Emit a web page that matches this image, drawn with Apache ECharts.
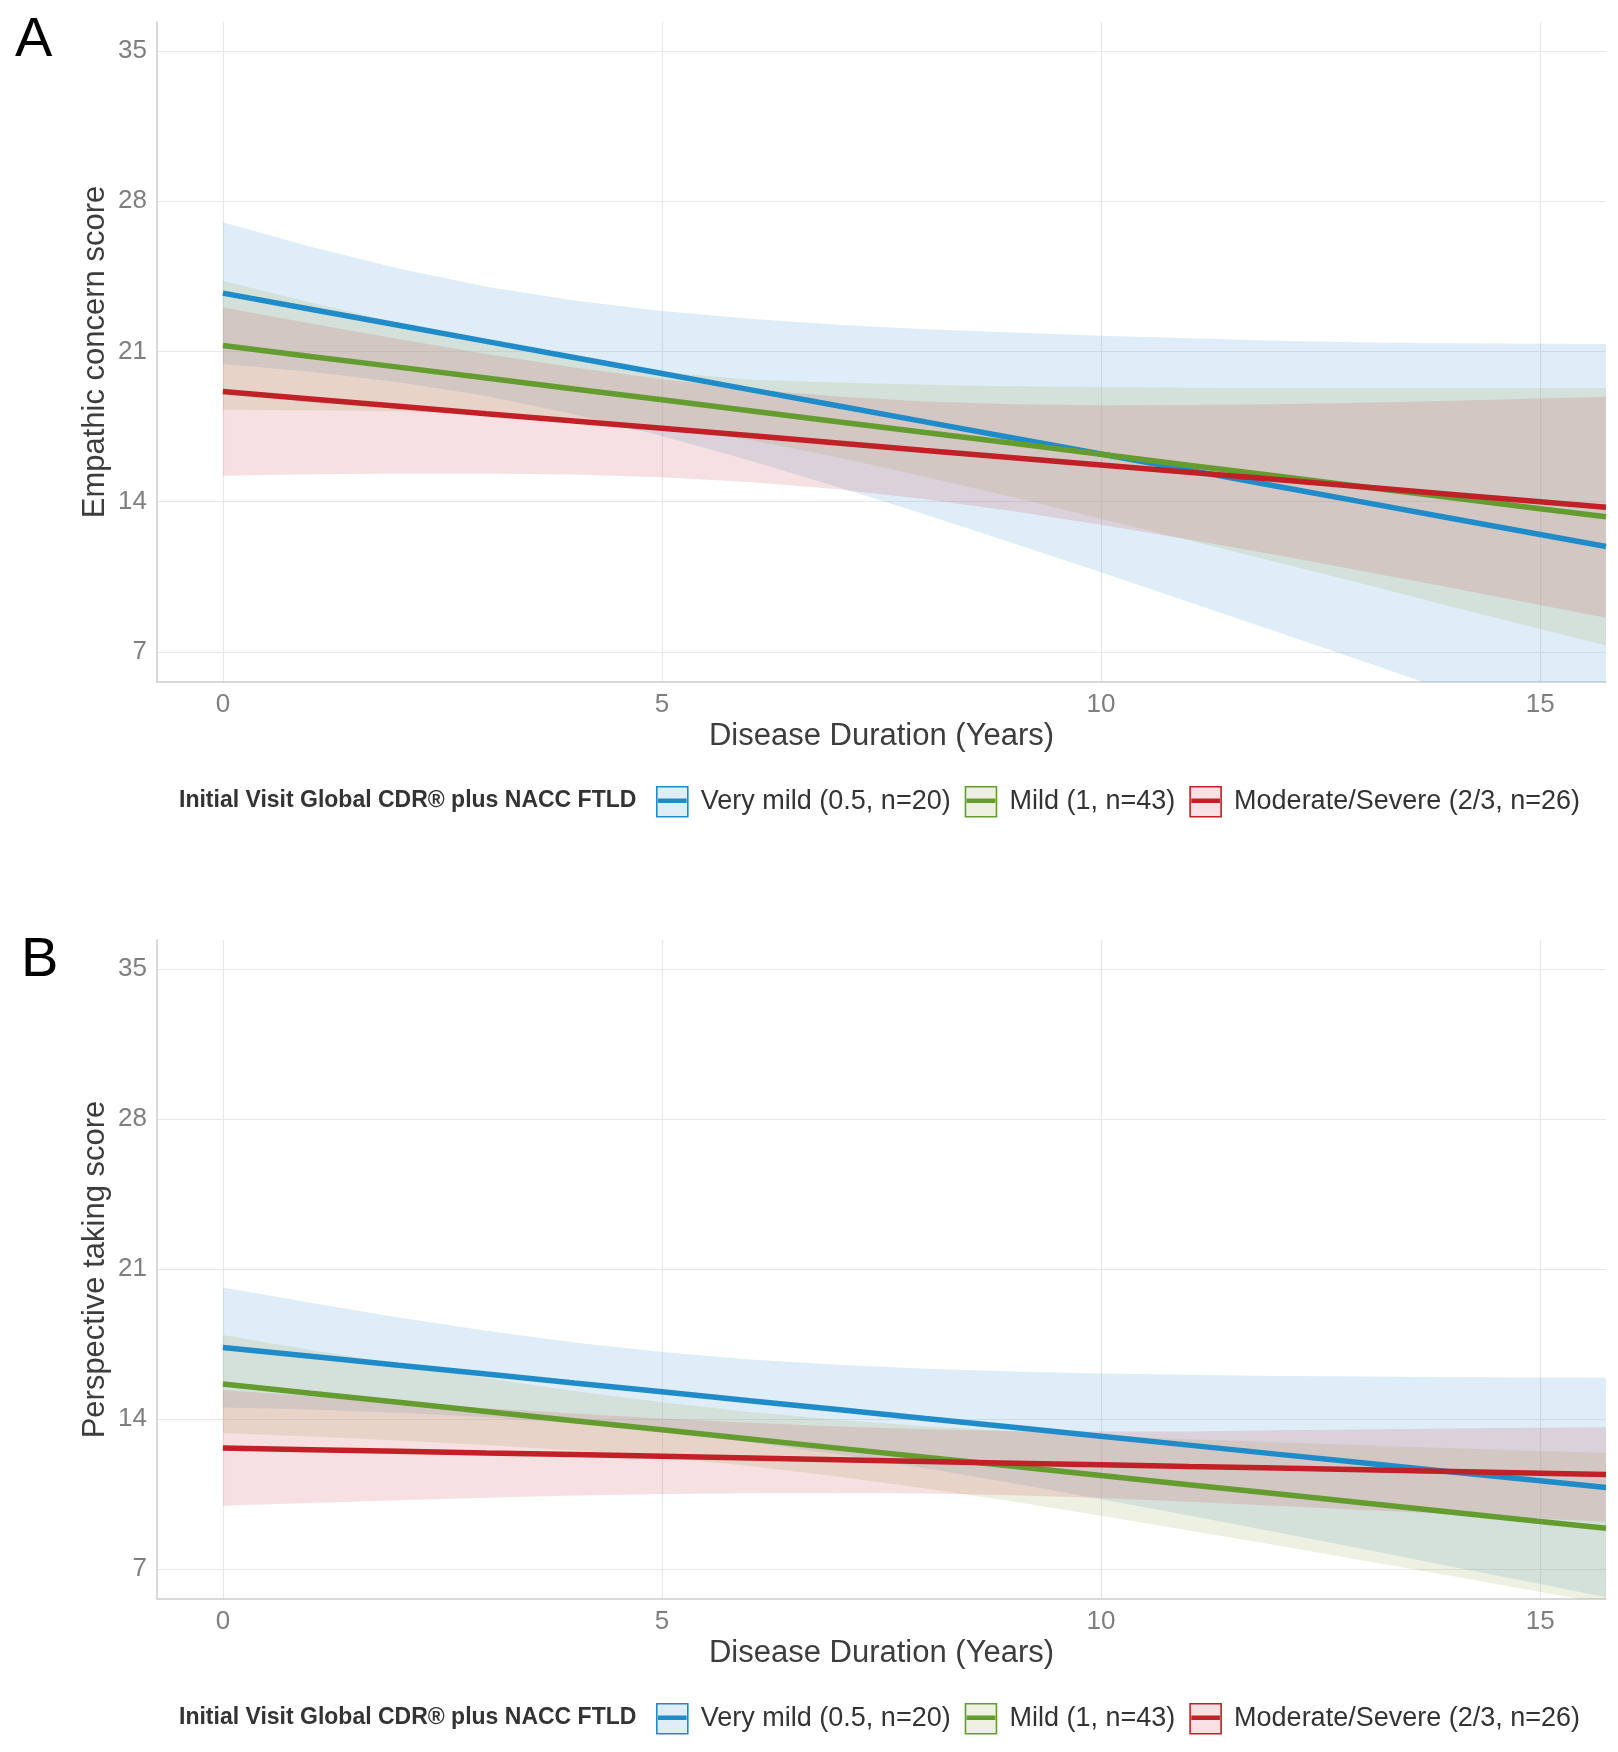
<!DOCTYPE html>
<html>
<head>
<meta charset="utf-8">
<title>Empathy scores by disease duration</title>
<script src="https://cdn.jsdelivr.net/npm/echarts@6/dist/echarts.min.js"></script>
<style>
  html, body { margin: 0; padding: 0; background: #fff; }
  #chart { width: 1618px; height: 1752px; }
</style>
</head>
<body>
<div id="chart"></div>
<script>
const years = [0, 1, 2, 3, 4, 5, 6, 7, 8, 9, 10, 11, 12, 13, 14, 15, 15.75];
const groupNames = ['Very mild (0.5, n=20)', 'Mild (1, n=43)', 'Moderate/Severe (2/3, n=26)'];
const xTicks = [0, 5, 10, 15];
const yTicks = [7, 14, 21, 28, 35];

// panel A: empathic concern (fit, lower and upper band)
const ecFitVeryMild = [23.72, 22.97, 22.22, 21.47, 20.72, 19.97, 19.22, 18.47, 17.72, 16.97, 16.22, 15.47, 14.72, 13.97, 13.22, 12.47, 11.91];
const ecLowVeryMild = [20.42, 20.06, 19.57, 18.92, 18.07, 17.06, 15.92, 14.69, 13.40, 12.06, 10.71, 9.33, 7.94, 6.54, 5.13, 3.71, 2.65];
const ecHighVeryMild = [27.02, 25.88, 24.87, 24.02, 23.37, 22.88, 22.52, 22.25, 22.04, 21.88, 21.73, 21.61, 21.50, 21.42, 21.38, 21.36, 21.35];
const ecFitMild = [21.28, 20.77, 20.27, 19.76, 19.25, 18.75, 18.24, 17.73, 17.22, 16.72, 16.21, 15.70, 15.20, 14.69, 14.18, 13.67, 13.30];
const ecLowMild = [18.28, 18.26, 18.21, 18.10, 17.89, 17.51, 16.88, 16.07, 15.16, 14.21, 13.21, 12.20, 11.18, 10.15, 9.11, 8.07, 7.30];
const ecHighMild = [24.28, 23.28, 22.33, 21.42, 20.61, 20.05, 19.68, 19.55, 19.45, 19.38, 19.34, 19.31, 19.30, 19.29, 19.29, 19.29, 19.30];
const ecFitModSev = [19.13, 18.79, 18.45, 18.10, 17.76, 17.42, 17.08, 16.74, 16.39, 16.05, 15.71, 15.37, 15.03, 14.68, 14.34, 14.00, 13.74];
const ecLowModSev = [15.21, 15.28, 15.32, 15.32, 15.27, 15.14, 14.92, 14.58, 14.11, 13.56, 12.93, 12.24, 11.52, 10.75, 9.98, 9.19, 8.59];
const ecHighModSev = [23.05, 22.30, 21.58, 20.88, 20.25, 19.70, 19.24, 18.90, 18.67, 18.54, 18.49, 18.50, 18.54, 18.61, 18.70, 18.81, 18.89];

// panel B: perspective taking
const ptFitVeryMild = [17.34, 16.93, 16.51, 16.10, 15.68, 15.27, 14.85, 14.44, 14.02, 13.61, 13.19, 12.78, 12.36, 11.95, 11.53, 11.12, 10.80];
const ptLowVeryMild = [14.54, 14.44, 14.29, 14.08, 13.79, 13.41, 12.92, 12.35, 11.70, 11.00, 10.26, 9.50, 8.71, 7.92, 7.11, 6.30, 5.68];
const ptHighVeryMild = [20.14, 19.42, 18.73, 18.12, 17.57, 17.13, 16.78, 16.53, 16.34, 16.22, 16.12, 16.06, 16.01, 15.98, 15.95, 15.94, 15.92];
const ptFitMild = [15.63, 15.20, 14.78, 14.35, 13.92, 13.50, 13.07, 12.64, 12.21, 11.79, 11.36, 10.93, 10.51, 10.08, 9.65, 9.22, 8.90];
const ptLowMild = [13.34, 13.18, 13.00, 12.79, 12.53, 12.22, 11.81, 11.32, 10.76, 10.15, 9.49, 8.80, 8.11, 7.39, 6.67, 5.93, 5.38];
const ptHighMild = [17.92, 17.22, 16.56, 15.91, 15.31, 14.78, 14.33, 13.96, 13.66, 13.43, 13.23, 13.06, 12.91, 12.77, 12.63, 12.51, 12.42];
const ptFitModSev = [12.65, 12.57, 12.49, 12.41, 12.34, 12.26, 12.18, 12.10, 12.02, 11.94, 11.86, 11.78, 11.71, 11.63, 11.55, 11.47, 11.41];
const ptLowModSev = [9.95, 10.08, 10.21, 10.32, 10.43, 10.50, 10.54, 10.55, 10.52, 10.44, 10.31, 10.14, 9.95, 9.75, 9.55, 9.35, 9.21];
const ptHighModSev = [15.35, 15.06, 14.77, 14.50, 14.25, 14.02, 13.82, 13.65, 13.52, 13.44, 13.41, 13.42, 13.47, 13.51, 13.55, 13.59, 13.61];

const lineColors = ['#1f8bc9', '#649c30', '#c02026'];
const bandColors = ['rgba(90,165,215,0.2)', 'rgba(170,182,105,0.2)', 'rgba(205,85,95,0.18)'];
const keyFills = ['#deedf7', '#eef0e1', '#f6e0e2'];
const font = 'Liberation Sans';

const panels = [
  { title: 'Empathic concern score', fit: [ecFitVeryMild, ecFitMild, ecFitModSev], low: [ecLowVeryMild, ecLowMild, ecLowModSev], high: [ecHighVeryMild, ecHighMild, ecHighModSev] },
  { title: 'Perspective taking score', fit: [ptFitVeryMild, ptFitMild, ptFitModSev], low: [ptLowVeryMild, ptLowMild, ptLowModSev], high: [ptHighVeryMild, ptHighMild, ptHighModSev] }
];

// confidence ribbon as one polygon between the lower and upper bounds
function bandSeries(pi, low, high, color) {
  return {
    type: 'custom', xAxisIndex: pi, yAxisIndex: pi, silent: true, clip: true,
    data: years.map((x, i) => [x, low[i], high[i]]),
    encode: { x: 0, y: [1, 2] },
    renderItem: (params, api) => {
      if (params.dataIndex !== 0) return null;
      const top = years.map((x, i) => api.coord([x, high[i]]));
      const bottom = years.map((x, i) => api.coord([x, low[i]])).reverse();
      return { type: 'polygon', shape: { points: top.concat(bottom) }, style: { fill: color } };
    }
  };
}

const series = [];
panels.forEach((p, pi) => {
  groupNames.forEach((name, g) => {
    series.push(bandSeries(pi, p.low[g], p.high[g], bandColors[g]));
    series.push({
      name, type: 'line', xAxisIndex: pi, yAxisIndex: pi,
      symbol: 'none', lineStyle: { color: lineColors[g], width: 5.5 },
      itemStyle: { color: lineColors[g] },
      data: years.map((x, i) => [x, p.fit[g][i]])
    });
  });
});

const grids = [
  { left: 157, top: 22, width: 1449, height: 660 },
  { left: 157, top: 940, width: 1449, height: 659 }
];
const legendTops = [786, 1703];

const chart = echarts.init(document.getElementById('chart'));
chart.setOption({
  animation: false,
  backgroundColor: '#fff',
  grid: grids,
  xAxis: panels.map((p, pi) => ({
    type: 'value', gridIndex: pi, min: -0.75, max: 15.75,
    name: 'Disease Duration (Years)', nameLocation: 'middle', nameGap: 39,
    nameTextStyle: { fontSize: 31, color: '#3d3d3d', fontFamily: font },
    axisLine: { show: true, onZero: false, lineStyle: { color: '#cccccc', width: 1.5 } },
    axisTick: { show: false, customValues: xTicks },
    axisLabel: { customValues: xTicks, fontSize: 26, color: '#7f7f7f', margin: 10, fontFamily: font },
    splitLine: { show: true, lineStyle: { color: '#e8e8e8', width: 1.2 } }
  })),
  yAxis: panels.map((p, pi) => ({
    type: 'value', gridIndex: pi, min: 5.6, max: 36.35,
    name: p.title, nameLocation: 'middle', nameGap: 46, nameMoveOverlap: false,
    nameTextStyle: { fontSize: 31, color: '#3d3d3d', fontFamily: font },
    axisLine: { show: true, onZero: false, lineStyle: { color: '#cccccc', width: 1.5 } },
    axisTick: { show: false, customValues: yTicks },
    axisLabel: { customValues: yTicks, fontSize: 26, color: '#7f7f7f', margin: 10, fontFamily: font, padding: [8, 0, 0, 0] },
    splitLine: { show: true, lineStyle: { color: '#e8e8e8', width: 1.2 } }
  })),
  legend: legendTops.map(top => ({
    left: 656, top, padding: 0, orient: 'horizontal', selectedMode: false,
    itemWidth: 31, itemHeight: 30, itemGap: 14,
    icon: 'path://M0,0H31V30H0Z M2,12.5H29V14H2Z M2,14H29V15.5H2Z',
    data: groupNames.map((name, g) => ({
      name,
      itemStyle: { color: keyFills[g], borderColor: lineColors[g], borderWidth: 1.6 }
    })),
    textStyle: { fontSize: 27, color: '#333', fontFamily: font, padding: [0, 0, 0, 8] }
  })),
  graphic: [
    { type: 'text', x: 15, y: 41, style: { text: 'A', font: '56px "Liberation Sans"', fill: '#000', textVerticalAlign: 'middle' } },
    { type: 'text', x: 21, y: 961, style: { text: 'B', font: '56px "Liberation Sans"', fill: '#000', textVerticalAlign: 'middle' } },
    { type: 'text', x: 179, y: 801, style: { text: 'Initial Visit Global CDR® plus NACC FTLD', font: 'bold 23px "Liberation Sans"', fill: '#333', textVerticalAlign: 'middle' } },
    { type: 'text', x: 179, y: 1718, style: { text: 'Initial Visit Global CDR® plus NACC FTLD', font: 'bold 23px "Liberation Sans"', fill: '#333', textVerticalAlign: 'middle' } }
  ],
  series
});
</script>
</body>
</html>
